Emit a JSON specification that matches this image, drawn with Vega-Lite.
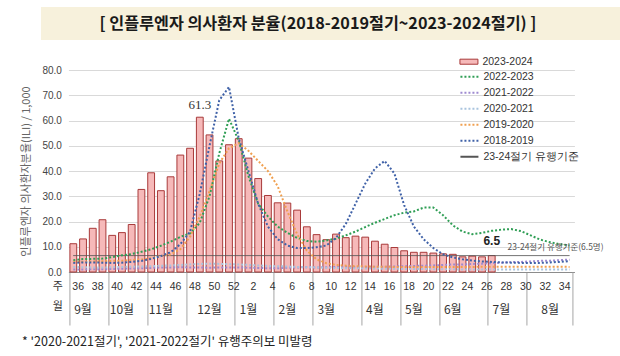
{
  "$schema": "https://vega.github.io/schema/vega-lite/v6.json",
  "background": "white",
  "padding": {"left": 20, "top": 7, "right": 0, "bottom": 2},
  "config": {
    "view": {"stroke": null},
    "font": "Noto Sans CJK KR",
    "axisY": {"tickCount": 10, "labelOverlap": false, "labelFont": "Liberation Sans", "labelFontSize": 10, "labelColor": "#444", "labelPadding": 7, "ticks": false, "domain": false, "grid": true, "gridColor": "#d9d9d9", "gridWidth": 1, "titleFont": "Noto Sans CJK KR", "titleFontSize": 11, "titleFontWeight": "normal", "titleColor": "#666", "titlePadding": 10}
  },
  "spacing": 12,
  "center": true,
  "resolve": {"scale": {"fill": "independent", "stroke": "independent", "strokeDash": "independent"}},
  "title": {"text": "* '2020-2021절기', '2021-2022절기' 유행주의보 미발령", "orient": "bottom", "anchor": "start", "dx": 1, "fontSize": 12.5, "fontWeight": "normal", "color": "#222", "font": "Noto Sans CJK KR", "offset": 10},
  "datasets": {
    "season": [
      {"wk": "36", "2023-2024": 11.2, "2022-2023": 4.7, "2021-2022": 1.0, "2020-2021": 2.0, "2019-2020": 4.0, "2018-2019": 3.6},
      {"wk": "37", "2023-2024": 13.1, "2022-2023": 5.1, "2021-2022": 1.0, "2020-2021": 1.9, "2019-2020": 4.1, "2018-2019": 3.8},
      {"wk": "38", "2023-2024": 17.3, "2022-2023": 5.2, "2021-2022": 1.1, "2020-2021": 1.8, "2019-2020": 4.2, "2018-2019": 3.8},
      {"wk": "39", "2023-2024": 20.7, "2022-2023": 5.3, "2021-2022": 1.1, "2020-2021": 1.8, "2019-2020": 4.3, "2018-2019": 3.7},
      {"wk": "40", "2023-2024": 14.5, "2022-2023": 5.9, "2021-2022": 1.2, "2020-2021": 1.9, "2019-2020": 4.4, "2018-2019": 3.6},
      {"wk": "41", "2023-2024": 15.6, "2022-2023": 6.6, "2021-2022": 1.3, "2020-2021": 2.0, "2019-2020": 4.5, "2018-2019": 3.7},
      {"wk": "42", "2023-2024": 18.8, "2022-2023": 7.1, "2021-2022": 1.4, "2020-2021": 2.1, "2019-2020": 4.7, "2018-2019": 4.0},
      {"wk": "43", "2023-2024": 32.7, "2022-2023": 8.0, "2021-2022": 1.5, "2020-2021": 2.2, "2019-2020": 5.0, "2018-2019": 4.4},
      {"wk": "44", "2023-2024": 39.3, "2022-2023": 9.0, "2021-2022": 1.6, "2020-2021": 2.3, "2019-2020": 5.5, "2018-2019": 5.2},
      {"wk": "45", "2023-2024": 32.2, "2022-2023": 10.4, "2021-2022": 1.8, "2020-2021": 2.5, "2019-2020": 6.3, "2018-2019": 6.3},
      {"wk": "46", "2023-2024": 37.7, "2022-2023": 12.0, "2021-2022": 1.8, "2020-2021": 2.6, "2019-2020": 7.0, "2018-2019": 7.8},
      {"wk": "47", "2023-2024": 46.3, "2022-2023": 13.9, "2021-2022": 1.9, "2020-2021": 2.8, "2019-2020": 9.0, "2018-2019": 11.0},
      {"wk": "48", "2023-2024": 49.0, "2022-2023": 15.3, "2021-2022": 1.8, "2020-2021": 3.0, "2019-2020": 14.0, "2018-2019": 16.0},
      {"wk": "49", "2023-2024": 61.3, "2022-2023": 19.5, "2021-2022": 1.8, "2020-2021": 3.2, "2019-2020": 22.0, "2018-2019": 31.0},
      {"wk": "50", "2023-2024": 54.3, "2022-2023": 30.0, "2021-2022": 1.7, "2020-2021": 3.3, "2019-2020": 32.0, "2018-2019": 50.0},
      {"wk": "51", "2023-2024": 44.0, "2022-2023": 47.0, "2021-2022": 1.8, "2020-2021": 3.2, "2019-2020": 43.0, "2018-2019": 68.0},
      {"wk": "52", "2023-2024": 50.4, "2022-2023": 60.7, "2021-2022": 1.8, "2020-2021": 3.1, "2019-2020": 49.0, "2018-2019": 73.3},
      {"wk": "1", "2023-2024": 52.8, "2022-2023": 52.0, "2021-2022": 1.8, "2020-2021": 3.0, "2019-2020": 51.0, "2018-2019": 53.0},
      {"wk": "2", "2023-2024": 45.1, "2022-2023": 38.0, "2021-2022": 1.7, "2020-2021": 2.8, "2019-2020": 48.0, "2018-2019": 40.0},
      {"wk": "3", "2023-2024": 37.0, "2022-2023": 27.0, "2021-2022": 1.6, "2020-2021": 2.6, "2019-2020": 44.0, "2018-2019": 27.0},
      {"wk": "4", "2023-2024": 30.3, "2022-2023": 22.0, "2021-2022": 1.5, "2020-2021": 2.4, "2019-2020": 40.0, "2018-2019": 18.0},
      {"wk": "5", "2023-2024": 27.4, "2022-2023": 18.0, "2021-2022": 1.5, "2020-2021": 2.3, "2019-2020": 34.0, "2018-2019": 13.0},
      {"wk": "6", "2023-2024": 27.3, "2022-2023": 15.5, "2021-2022": 1.7, "2020-2021": 2.2, "2019-2020": 24.0, "2018-2019": 10.5},
      {"wk": "7", "2023-2024": 24.5, "2022-2023": 13.5, "2021-2022": 1.8, "2020-2021": 2.0, "2019-2020": 15.0, "2018-2019": 9.5},
      {"wk": "8", "2023-2024": 17.9, "2022-2023": 12.3, "2021-2022": 1.9, "2020-2021": 1.9, "2019-2020": 8.5, "2018-2019": 9.5},
      {"wk": "9", "2023-2024": 14.8, "2022-2023": 12.0, "2021-2022": 1.8, "2020-2021": 1.8, "2019-2020": 5.0, "2018-2019": 9.8},
      {"wk": "10", "2023-2024": 12.8, "2022-2023": 12.5, "2021-2022": 1.9, "2020-2021": 1.7, "2019-2020": 3.5, "2018-2019": 10.5},
      {"wk": "11", "2023-2024": 15.0, "2022-2023": 13.2, "2021-2022": 2.0, "2020-2021": 1.6, "2019-2020": 2.8, "2018-2019": 13.5},
      {"wk": "12", "2023-2024": 13.6, "2022-2023": 14.5, "2021-2022": 2.1, "2020-2021": 1.5, "2019-2020": 2.5, "2018-2019": 19.0},
      {"wk": "13", "2023-2024": 14.2, "2022-2023": 16.0, "2021-2022": 2.0, "2020-2021": 1.5, "2019-2020": 2.3, "2018-2019": 27.0},
      {"wk": "14", "2023-2024": 13.8, "2022-2023": 17.8, "2021-2022": 2.0, "2020-2021": 1.4, "2019-2020": 2.2, "2018-2019": 35.0},
      {"wk": "15", "2023-2024": 12.2, "2022-2023": 19.5, "2021-2022": 2.1, "2020-2021": 1.4, "2019-2020": 2.1, "2018-2019": 41.0},
      {"wk": "16", "2023-2024": 11.0, "2022-2023": 21.0, "2021-2022": 2.1, "2020-2021": 1.3, "2019-2020": 2.1, "2018-2019": 44.0},
      {"wk": "17", "2023-2024": 9.7, "2022-2023": 22.5, "2021-2022": 2.2, "2020-2021": 1.3, "2019-2020": 2.0, "2018-2019": 39.0},
      {"wk": "18", "2023-2024": 8.4, "2022-2023": 23.5, "2021-2022": 2.3, "2020-2021": 1.2, "2019-2020": 2.0, "2018-2019": 26.5},
      {"wk": "19", "2023-2024": 7.8, "2022-2023": 24.0, "2021-2022": 2.4, "2020-2021": 1.2, "2019-2020": 2.0, "2018-2019": 18.0},
      {"wk": "20", "2023-2024": 7.8, "2022-2023": 25.5, "2021-2022": 2.5, "2020-2021": 1.2, "2019-2020": 2.0, "2018-2019": 13.0},
      {"wk": "21", "2023-2024": 7.5, "2022-2023": 25.5, "2021-2022": 2.6, "2020-2021": 1.1, "2019-2020": 2.0, "2018-2019": 9.5},
      {"wk": "22", "2023-2024": 7.2, "2022-2023": 22.5, "2021-2022": 2.8, "2020-2021": 1.1, "2019-2020": 2.0, "2018-2019": 7.0},
      {"wk": "23", "2023-2024": 7.0, "2022-2023": 18.5, "2021-2022": 3.0, "2020-2021": 1.1, "2019-2020": 2.0, "2018-2019": 5.8},
      {"wk": "24", "2023-2024": 6.0, "2022-2023": 16.0, "2021-2022": 3.0, "2020-2021": 1.0, "2019-2020": 2.0, "2018-2019": 5.0},
      {"wk": "25", "2023-2024": 6.3, "2022-2023": 15.0, "2021-2022": 3.2, "2020-2021": 1.0, "2019-2020": 2.0, "2018-2019": 4.5},
      {"wk": "26", "2023-2024": 6.0, "2022-2023": 15.5, "2021-2022": 3.3, "2020-2021": 1.0, "2019-2020": 2.1, "2018-2019": 4.2},
      {"wk": "27", "2023-2024": 6.5, "2022-2023": 16.3, "2021-2022": 3.5, "2020-2021": 1.0, "2019-2020": 2.1, "2018-2019": 4.0},
      {"wk": "28", "2022-2023": 16.8, "2021-2022": 3.7, "2020-2021": 1.0, "2019-2020": 2.1, "2018-2019": 3.8},
      {"wk": "29", "2022-2023": 17.0, "2021-2022": 3.9, "2020-2021": 1.0, "2019-2020": 2.1, "2018-2019": 3.7},
      {"wk": "30", "2022-2023": 16.2, "2021-2022": 4.0, "2020-2021": 1.0, "2019-2020": 2.1, "2018-2019": 3.6},
      {"wk": "31", "2022-2023": 14.5, "2021-2022": 4.2, "2020-2021": 1.0, "2019-2020": 2.1, "2018-2019": 3.6},
      {"wk": "32", "2022-2023": 12.8, "2021-2022": 4.4, "2020-2021": 1.0, "2019-2020": 2.1, "2018-2019": 3.6},
      {"wk": "33", "2022-2023": 11.8, "2021-2022": 4.5, "2020-2021": 1.0, "2019-2020": 2.1, "2018-2019": 3.8},
      {"wk": "34", "2022-2023": 11.0, "2021-2022": 4.7, "2020-2021": 1.0, "2019-2020": 2.1, "2018-2019": 4.0},
      {"wk": "35", "2022-2023": 10.5, "2021-2022": 4.9, "2020-2021": 1.0, "2019-2020": 2.0, "2018-2019": 4.3}
    ],
    "thr": [{"series": "23-24절기 유행기준", "from": "36", "to": "35", "value": 6.5}],
    "thrlab": [{"wk": "35", "value": 6.5, "label": "23-24절기 유행기준(6.5명)"}]
  },
  "vconcat": [
    {
      "width": 590,
      "height": 33,
      "view": {"fill": "#f7f1dc", "stroke": null},
      "data": {"values": [{"t": "[ 인플루엔자 의사환자 분율(2018-2019절기~2023-2024절기) ]"}]},
      "mark": {"type": "text", "fontSize": 16.2, "fontWeight": "bold", "color": "#1a1a1a", "align": "center", "xOffset": -18, "font": "Noto Sans CJK KR"},
      "encoding": {"text": {"field": "t", "type": "nominal"}}
    },
    {
      "width": 506,
      "height": 202,
      "resolve": {"axis": {"x": "independent"}},
      "layer": [
        {
          "data": {"name": "season"},
          "transform": [{"fold": ["2023-2024"], "as": ["series", "value"]}],
          "mark": {"type": "bar", "stroke": "#a83a3a", "strokeWidth": 1},
          "encoding": {
            "x": {
              "field": "wk", "type": "ordinal",
              "scale": {"domain": ["36","37","38","39","40","41","42","43","44","45","46","47","48","49","50","51","52","1","2","3","4","5","6","7","8","9","10","11","12","13","14","15","16","17","18","19","20","21","22","23","24","25","26","27","28","29","30","31","32","33","34","35"], "paddingInner": 0.3, "paddingOuter": 0.15},
              "axis": {
                "orient": "bottom", "title": "주", "titleX": -11, "titleY": 14, "titleAngle": 0, "titleAlign": "center", "titleBaseline": "middle",
                "titleFontSize": 11, "titleFontWeight": "normal", "titleColor": "#333", "titleFont": "Noto Sans CJK KR",
                "bandPosition": 0, "labelOffset": 4.87,
                "labelExpr": "toNumber(datum.value) % 2 == 0 ? datum.value : ''",
                "labelAngle": 0, "labelOverlap": false, "labelFont": "Liberation Sans", "labelFontSize": 10.5, "labelColor": "#333", "labelBaseline": "middle", "labelPadding": -39,
                "ticks": true, "tickSize": 53, "tickColor": "#a6a6a6", "tickWidth": 1,
                "tickOpacity": {"condition": {"test": "indexof(['36','40','44','48','1','5','9','14','18','22','27','31'], datum.value) >= 0", "value": 1}, "value": 0},
                "domain": true, "domainColor": "#8c8c8c", "grid": false
              }
            },
            "y": {
              "field": "value", "type": "quantitative", "title": "인플루엔자 의사환자분율(ILI) / 1,000",
              "scale": {"domain": [0, 80], "nice": false},
              "axis": {"values": [0, 10, 20, 30, 40, 50, 60, 70, 80], "tickCount": 10, "format": ".1f", "labelOverlap": false}
            },
            "fill": {
              "field": "series", "type": "nominal",
              "scale": {"domain": ["2023-2024"], "range": ["#f6b9b9"]},
              "legend": {
                "title": null, "orient": "none", "legendX": 391, "legendY": -17.8,
                "symbolType": "M-1,-0.28H1V0.28H-1Z", "symbolSize": 324, "symbolStrokeColor": "#a83a3a", "symbolStrokeWidth": 1,
                "labelFont": "Liberation Sans", "labelFontSize": 10.5, "labelColor": "#333", "labelOffset": 4, "padding": 0
              }
            }
          }
        },
        {
          "data": {"name": "thr"},
          "mark": {"type": "rule", "strokeWidth": 1},
          "encoding": {
            "x": {"field": "from", "type": "ordinal", "axis": null,
              "scale": {"domain": ["36","37","38","39","40","41","42","43","44","45","46","47","48","49","50","51","52","1","2","3","4","5","6","7","8","9","10","11","12","13","14","15","16","17","18","19","20","21","22","23","24","25","26","27","28","29","30","31","32","33","34","35"], "paddingInner": 0.3, "paddingOuter": 0.15}},
            "x2": {"field": "to"},
            "y": {"field": "value", "type": "quantitative", "title": "인플루엔자 의사환자분율(ILI) / 1,000", "scale": {"domain": [0, 80], "nice": false}, "axis": {"values": [0, 10, 20, 30, 40, 50, 60, 70, 80], "tickCount": 10, "format": ".1f", "labelOverlap": false}},
            "stroke": {
              "field": "series", "type": "nominal",
              "scale": {"domain": ["2022-2023", "2021-2022", "2020-2021", "2019-2020", "2018-2019", "23-24절기 유행기준"], "range": ["#2f9e55", "#9e8ad0", "#a9c4de", "#f0a050", "#4062a8", "#555555"]},
              "legend": {
                "title": null, "orient": "none", "legendX": 391, "legendY": -3.3, "symbolType": "stroke", "symbolSize": 324, "symbolStrokeWidth": 2, "rowPadding": -5.4,
                "labelFont": "Liberation Sans", "labelFontSize": 10.5, "labelColor": "#333", "labelOffset": 4, "padding": 0
              }
            },
            "strokeDash": {
              "field": "series", "type": "nominal",
              "scale": {"domain": ["2022-2023", "2021-2022", "2020-2021", "2019-2020", "2018-2019", "23-24절기 유행기준"], "range": [[2, 2], [2, 2], [2, 2], [2, 2], [2, 2], [1, 0]]},
              "legend": {
                "title": null, "orient": "none", "legendX": 391, "legendY": -3.3, "symbolType": "stroke", "symbolSize": 324, "symbolStrokeWidth": 2, "rowPadding": -5.4,
                "labelFont": "Liberation Sans", "labelFontSize": 10.5, "labelColor": "#333", "labelOffset": 4, "padding": 0
              }
            }
          }
        },
        {
          "data": {"name": "season"},
          "transform": [{"fold": ["2022-2023", "2021-2022", "2020-2021", "2019-2020", "2018-2019"], "as": ["series", "value"]}],
          "mark": {"type": "line", "strokeWidth": 2},
          "encoding": {
            "x": {
              "field": "wk", "type": "ordinal",
              "scale": {"domain": ["36","37","38","39","40","41","42","43","44","45","46","47","48","49","50","51","52","1","2","3","4","5","6","7","8","9","10","11","12","13","14","15","16","17","18","19","20","21","22","23","24","25","26","27","28","29","30","31","32","33","34","35"], "paddingInner": 0.3, "paddingOuter": 0.15},
              "axis": {
                "orient": "bottom", "title": "월", "titleX": -11, "titleY": 34, "titleAngle": 0, "titleAlign": "center", "titleBaseline": "middle",
                "titleFontSize": 11, "titleFontWeight": "normal", "titleColor": "#333", "titleFont": "Noto Sans CJK KR",
                "bandPosition": 1,
                "labelExpr": "indexof(['37','41','45','50','2','6','10','15','19','23','28','33'], datum.value) >= 0 ? ['9월','10월','11월','12월','1월','2월','3월','4월','5월','6월','7월','8월'][indexof(['37','41','45','50','2','6','10','15','19','23','28','33'], datum.value)] : ''",
                "labelAngle": 0, "labelOverlap": false, "labelFont": "Noto Sans CJK KR", "labelFontSize": 12, "labelColor": "#333", "labelBaseline": "middle", "labelPadding": -16,
                "ticks": true, "tickSize": 53, "tickColor": "#a6a6a6", "tickWidth": 1,
                "tickOpacity": {"condition": {"test": "datum.value == '35'", "value": 1}, "value": 0},
                "domain": false, "grid": false
              }
            },
            "y": {"field": "value", "type": "quantitative", "title": "인플루엔자 의사환자분율(ILI) / 1,000", "scale": {"domain": [0, 80], "nice": false}, "axis": {"values": [0, 10, 20, 30, 40, 50, 60, 70, 80], "tickCount": 10, "format": ".1f", "labelOverlap": false}},
            "order": {"value": null},
            "stroke": {
              "field": "series", "type": "nominal",
              "scale": {"domain": ["2022-2023", "2021-2022", "2020-2021", "2019-2020", "2018-2019", "23-24절기 유행기준"], "range": ["#2f9e55", "#9e8ad0", "#a9c4de", "#f0a050", "#4062a8", "#555555"]},
              "legend": {
                "title": null, "orient": "none", "legendX": 391, "legendY": -3.3, "symbolType": "stroke", "symbolSize": 324, "symbolStrokeWidth": 2, "rowPadding": -5.4,
                "labelFont": "Liberation Sans", "labelFontSize": 10.5, "labelColor": "#333", "labelOffset": 4, "padding": 0
              }
            },
            "strokeDash": {
              "field": "series", "type": "nominal",
              "scale": {"domain": ["2022-2023", "2021-2022", "2020-2021", "2019-2020", "2018-2019", "23-24절기 유행기준"], "range": [[2, 2], [2, 2], [2, 2], [2, 2], [2, 2], [1, 0]]},
              "legend": {
                "title": null, "orient": "none", "legendX": 391, "legendY": -3.3, "symbolType": "stroke", "symbolSize": 324, "symbolStrokeWidth": 2, "rowPadding": -5.4,
                "labelFont": "Liberation Sans", "labelFontSize": 10.5, "labelColor": "#333", "labelOffset": 4, "padding": 0
              }
            }
          }
        },
        {
          "data": {"name": "season"},
          "transform": [{"fold": ["2023-2024"], "as": ["series", "value"]}, {"filter": "datum.wk == '49'"}],
          "mark": {"type": "text", "baseline": "bottom", "dy": -5, "font": "Liberation Serif", "fontSize": 13, "color": "#333"},
          "encoding": {
            "x": {"field": "wk", "type": "ordinal", "axis": null,
              "scale": {"domain": ["36","37","38","39","40","41","42","43","44","45","46","47","48","49","50","51","52","1","2","3","4","5","6","7","8","9","10","11","12","13","14","15","16","17","18","19","20","21","22","23","24","25","26","27","28","29","30","31","32","33","34","35"], "paddingInner": 0.3, "paddingOuter": 0.15}},
            "y": {"field": "value", "type": "quantitative", "title": "인플루엔자 의사환자분율(ILI) / 1,000", "scale": {"domain": [0, 80], "nice": false}, "axis": {"values": [0, 10, 20, 30, 40, 50, 60, 70, 80], "tickCount": 10, "format": ".1f", "labelOverlap": false}},
            "text": {"field": "value", "type": "quantitative", "format": ".1f"}
          }
        },
        {
          "data": {"name": "season"},
          "transform": [{"fold": ["2023-2024"], "as": ["series", "value"]}, {"filter": "datum.wk == '27'"}],
          "mark": {"type": "text", "baseline": "bottom", "dy": -8, "font": "Liberation Sans", "fontWeight": "bold", "fontSize": 12, "color": "#222"},
          "encoding": {
            "x": {"field": "wk", "type": "ordinal", "axis": null,
              "scale": {"domain": ["36","37","38","39","40","41","42","43","44","45","46","47","48","49","50","51","52","1","2","3","4","5","6","7","8","9","10","11","12","13","14","15","16","17","18","19","20","21","22","23","24","25","26","27","28","29","30","31","32","33","34","35"], "paddingInner": 0.3, "paddingOuter": 0.15}},
            "y": {"field": "value", "type": "quantitative", "title": "인플루엔자 의사환자분율(ILI) / 1,000", "scale": {"domain": [0, 80], "nice": false}, "axis": {"values": [0, 10, 20, 30, 40, 50, 60, 70, 80], "tickCount": 10, "format": ".1f", "labelOverlap": false}},
            "text": {"field": "value", "type": "quantitative", "format": ".1f"}
          }
        },
        {
          "data": {"name": "thrlab"},
          "mark": {"type": "text", "align": "right", "baseline": "middle", "dx": 34, "dy": -9, "fontSize": 8.5, "color": "#555", "font": "Noto Sans CJK KR"},
          "encoding": {
            "x": {"field": "wk", "type": "ordinal", "axis": null,
              "scale": {"domain": ["36","37","38","39","40","41","42","43","44","45","46","47","48","49","50","51","52","1","2","3","4","5","6","7","8","9","10","11","12","13","14","15","16","17","18","19","20","21","22","23","24","25","26","27","28","29","30","31","32","33","34","35"], "paddingInner": 0.3, "paddingOuter": 0.15}},
            "y": {"field": "value", "type": "quantitative", "title": "인플루엔자 의사환자분율(ILI) / 1,000", "scale": {"domain": [0, 80], "nice": false}, "axis": {"values": [0, 10, 20, 30, 40, 50, 60, 70, 80], "tickCount": 10, "format": ".1f", "labelOverlap": false}},
            "text": {"field": "label", "type": "nominal"}
          }
        }
      ]
    }
  ]
}
